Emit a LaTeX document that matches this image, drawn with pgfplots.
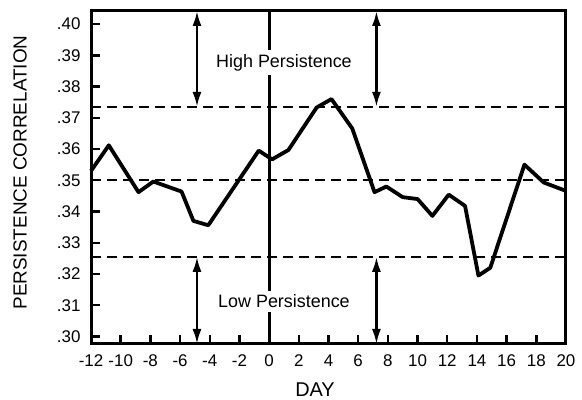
\documentclass[border=0pt]{standalone}
\usepackage{fontspec}
\setmainfont{Liberation Sans}
\usepackage{pgfplots}
\pgfplotsset{compat=1.18}
\usetikzlibrary{arrows.meta}

\begin{document}
\begin{tikzpicture}
\begin{axis}[
  width=475bp, height=333bp, scale only axis,
  xmin=-12, xmax=20, ymin=0.2976, ymax=0.4042,
  xtick={-12,-10,-8,-6,-4,-2,0,2,4,6,8,10,12,14,16,18,20},
  xticklabels={-12,-10,-8,-6,-4,-2,0,2,4,6,8,10,12,14,16,18,20},
  ytick={0.30,0.31,0.32,0.33,0.34,0.35,0.36,0.37,0.38,0.39,0.40},
  yticklabels={.30,.31,.32,.33,.34,.35,.36,.37,.38,.39,.40},
  tick align=inside, tick pos=left,
  major tick length=9bp,
  tick style={line width=2.4bp, black},
  axis line style={line width=3bp},
  ticklabel style={font=\fontsize{17}{17}\selectfont},
  xticklabel style={yshift=-7bp},
  yticklabel style={xshift=-7bp},
  xlabel={DAY}, ylabel={PERSISTENCE CORRELATION},
  xlabel style={font=\fontsize{20}{20}\selectfont, inner sep=0pt, at={(axis description cs:0.4716,-0.136)}, anchor=center},
  ylabel style={font=\fontsize{19}{19}\selectfont, at={(axis description cs:-0.1495,0.515)}, anchor=center},
  clip=false,
]
% dashed reference levels
\addplot[black, line width=2.3bp, dash pattern=on 10bp off 6bp] coordinates {(-12,0.3735) (20,0.3735)};
\addplot[black, line width=2.3bp, dash pattern=on 10bp off 6bp] coordinates {(-12,0.3501) (20,0.3501)};
\addplot[black, line width=2.3bp, dash pattern=on 10bp off 6bp] coordinates {(-12,0.3255) (20,0.3255)};
% day 0 line
\addplot[black, line width=2.8bp] coordinates {(0,0.2976) (0,0.4042)};

\addplot[black, line width=3.8bp, line join=round] coordinates {
  (-12,0.3530) (-10.8,0.3612) (-8.8,0.3462) (-7.8,0.3496) (-5.9,0.3464)
  (-5.1,0.3370) (-4.1,0.3356) (-0.7,0.3595) (0.2,0.3567) (1.3,0.3597)
  (3.2,0.3733) (4.2,0.3760) (5.6,0.3666) (7.1,0.3462) (7.9,0.3480)
  (9.0,0.3446) (10.0,0.3440) (11.0,0.3386) (12.1,0.3454) (13.2,0.3418)
  (14.1,0.3195) (14.9,0.3220) (17.2,0.3550) (18.5,0.3493) (20,0.3466)
};

% arrows
\draw[line width=2.4bp, {Latex[length=15bp,width=9bp]}-{Latex[length=15bp,width=9bp]}]
  (axis cs:-4.86,0.3735) -- (axis cs:-4.86,0.4042);
\draw[line width=2.4bp, {Latex[length=15bp,width=9bp]}-{Latex[length=15bp,width=9bp]}]
  (axis cs:7.23,0.3735) -- (axis cs:7.23,0.4042);
\draw[line width=2.4bp, {Latex[length=15bp,width=9bp]}-{Latex[length=15bp,width=9bp]}]
  (axis cs:-4.86,0.2976) -- (axis cs:-4.86,0.3255);
\draw[line width=2.4bp, {Latex[length=15bp,width=9bp]}-{Latex[length=15bp,width=9bp]}]
  (axis cs:7.23,0.2976) -- (axis cs:7.23,0.3255);

\node[fill=white, inner sep=4bp, font=\fontsize{18}{18}\selectfont] at (axis cs:1.0,0.3876) {High Persistence};
\node[fill=white, inner sep=4bp, font=\fontsize{18}{18}\selectfont] at (axis cs:1.0,0.3112) {Low Persistence};

\coordinate (bl) at (rel axis cs:-0.1916,-0.1682);
\coordinate (tr) at (rel axis cs:1.0337,1.0330);
\end{axis}
\pgfresetboundingbox
\path[use as bounding box] (bl) rectangle (tr);
\end{tikzpicture}
\end{document}
